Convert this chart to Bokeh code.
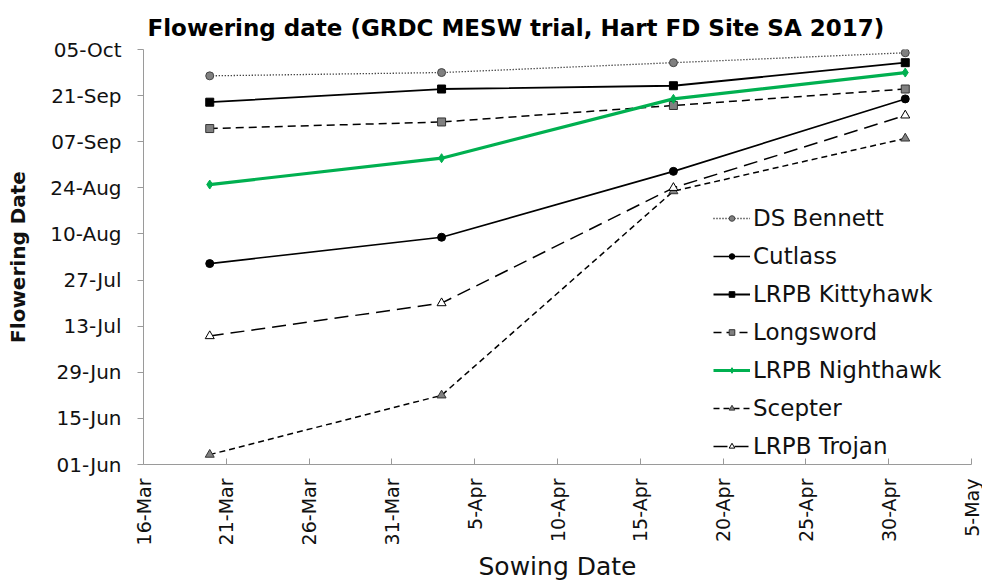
import math
from datetime import datetime
from bokeh.plotting import figure
from bokeh.models import (ColumnDataSource, FixedTicker, Range1d, Legend, LegendItem, Title)
from bokeh.embed import file_html
from bokeh.resources import INLINE

# ---------------- data ----------------
sowing_dates = ["2017-03-20", "2017-04-03", "2017-04-17", "2017-05-01"]

ds_bennett = ["2017-09-27", "2017-09-28", "2017-10-01", "2017-10-04"]
cutlass = ["2017-08-01", "2017-08-09", "2017-08-29", "2017-09-20"]
kittyhawk = ["2017-09-19", "2017-09-23", "2017-09-24", "2017-10-01"]
longsword = ["2017-09-11", "2017-09-13", "2017-09-18", "2017-09-23"]
nighthawk = ["2017-08-25", "2017-09-02", "2017-09-20", "2017-09-28"]
scepter = ["2017-06-04", "2017-06-22", "2017-08-23", "2017-09-08"]
trojan = ["2017-07-10", "2017-07-20", "2017-08-24", "2017-09-15"]

x_tick_dates = ["2017-03-16", "2017-03-21", "2017-03-26", "2017-03-31", "2017-04-05",
                "2017-04-10", "2017-04-15", "2017-04-20", "2017-04-25", "2017-04-30",
                "2017-05-05"]
x_tick_labels = ["16-Mar", "21-Mar", "26-Mar", "31-Mar", "5-Apr", "10-Apr",
                 "15-Apr", "20-Apr", "25-Apr", "30-Apr", "5-May"]
y_tick_dates = ["2017-06-01", "2017-06-15", "2017-06-29", "2017-07-13", "2017-07-27",
                "2017-08-10", "2017-08-24", "2017-09-07", "2017-09-21", "2017-10-05"]
y_tick_labels = ["01-Jun", "15-Jun", "29-Jun", "13-Jul", "27-Jul", "10-Aug",
                 "24-Aug", "07-Sep", "21-Sep", "05-Oct"]

EPOCH = datetime(1970, 1, 1)


def ms(s):
    return int((datetime.strptime(s, "%Y-%m-%d") - EPOCH).total_seconds() * 1000)


FONT = "DejaVu Sans"

p = figure(width=982, height=584, output_backend="svg", toolbar_location=None,
           x_range=Range1d(ms(x_tick_dates[0]), ms(x_tick_dates[-1])),
           y_range=Range1d(ms(y_tick_dates[0]), ms(y_tick_dates[-1])),
           min_border_left=143, min_border_right=11, min_border_top=49,
           min_border_bottom=119)
p.outline_line_color = None
p.xgrid.visible = False
p.ygrid.visible = False
p.background_fill_color = "white"
p.border_fill_color = "white"

p.title = Title(text="Flowering date (GRDC MESW trial, Hart FD Site SA 2017)",
                text_font=FONT, text_font_size="23px", text_font_style="bold",
                text_color="black", align="left", offset=4, standoff=17)

ax = p.xaxis[0]
ax.ticker = FixedTicker(ticks=[ms(d) for d in x_tick_dates])
ax.major_label_overrides = {ms(d): l for d, l in zip(x_tick_dates, x_tick_labels)}
ax.major_label_orientation = math.pi / 2
ax.minor_tick_line_color = None
ax.major_tick_in = 6
ax.major_tick_out = 0
ax.major_label_standoff = 14
ax.axis_label = "Sowing Date"
ax.axis_label_standoff = 4
ax.axis_label_text_font = FONT
ax.axis_label_text_font_size = "25px"
ax.axis_label_text_font_style = "normal"
ax.major_label_text_font = FONT
ax.major_label_text_font_size = "19px"

ay = p.yaxis[0]
ay.ticker = FixedTicker(ticks=[ms(d) for d in y_tick_dates])
ay.major_label_overrides = {ms(d): l for d, l in zip(y_tick_dates, y_tick_labels)}
ay.minor_tick_line_color = None
ay.major_tick_in = 0
ay.major_tick_out = 6
ay.major_label_standoff = 16
ay.axis_label = "Flowering Date"
ay.axis_label_standoff = 17
ay.axis_label_text_font = FONT
ay.axis_label_text_font_size = "20px"
ay.axis_label_text_font_style = "bold"
ay.major_label_text_font = FONT
ay.major_label_text_font_size = "20px"

for a in (ax, ay):
    a.axis_line_color = "#9a9a9a"
    a.major_tick_line_color = "#9a9a9a"
    a.major_label_text_color = "#111111"
    a.axis_label_text_color = "#111111"

xs = [ms(d) for d in sowing_dates]

series = [
    ("DS Bennett", ds_bennett, dict(color="black", width=1.3, dash="1 2"),
     dict(marker="circle", size=8, fill="#808080", line="#444444")),
    ("Cutlass", cutlass, dict(color="black", width=1.6, dash="solid"),
     dict(marker="circle", size=8, fill="black", line="black")),
    ("LRPB Kittyhawk", kittyhawk, dict(color="black", width=1.8, dash="solid"),
     dict(marker="square", size=8, fill="black", line="black")),
    ("Longsword", longsword, dict(color="black", width=1.5, dash="8 5"),
     dict(marker="square", size=8, fill="#808080", line="#333333")),
    ("LRPB Nighthawk", nighthawk, dict(color="#00b050", width=3.2, dash="solid"),
     dict(marker="diamond", size=9, fill="#00b050", line="#00b050")),
    ("Scepter", scepter, dict(color="black", width=1.5, dash="6 4"),
     dict(marker="triangle", size=9, fill="#808080", line="#333333")),
    ("LRPB Trojan", trojan, dict(color="black", width=1.5, dash="14 7"),
     dict(marker="triangle", size=9, fill="white", line="black")),
]

items = []
for name, vals, ls, mk in series:
    src = ColumnDataSource(dict(x=xs, y=[ms(v) for v in vals]))
    r1 = p.line("x", "y", source=src, line_color=ls["color"], line_width=ls["width"],
                line_dash=ls["dash"])
    r2 = p.scatter("x", "y", source=src, marker=mk["marker"], size=mk["size"],
                   fill_color=mk["fill"], line_color=mk["line"], line_width=1)
    items.append(LegendItem(label=name, renderers=[r1, r2]))

legend = Legend(items=items, location=(570, 3), orientation="vertical",
                label_text_font=FONT, label_text_font_size="23px",
                label_text_color="#111111",
                glyph_width=37, glyph_height=14, label_height=30, label_standoff=3,
                spacing=8, padding=0, margin=0,
                border_line_color=None, background_fill_alpha=0)
p.add_layout(legend, "center")

open("out.html", "w").write(file_html(p, INLINE))
